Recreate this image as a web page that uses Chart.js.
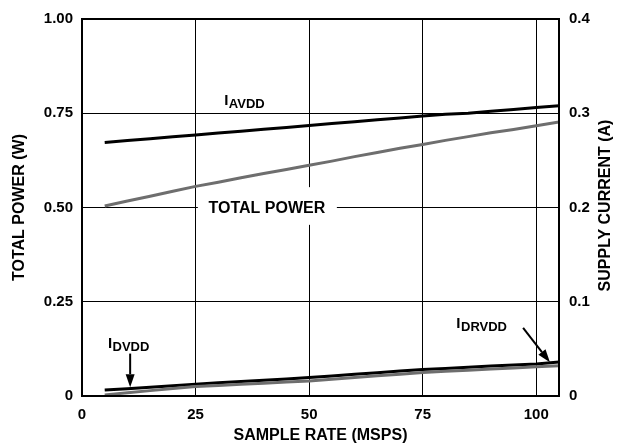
<!DOCTYPE html>
<html>
<head>
<meta charset="utf-8">
<script src="https://cdn.jsdelivr.net/npm/chart.js@4"></script>
<style>
  html, body { margin: 0; padding: 0; background: #fff; }
  #wrap { width: 618px; height: 444px; }
</style>
</head>
<body>
<div id="wrap"><canvas id="myChart" width="618" height="444"></canvas></div>
<script>
// sample rate (MSPS)
const sampleRate = [5, 10, 15, 20, 25, 30, 35, 40, 45, 50, 55, 60, 65, 70, 75, 80, 85, 90, 95, 100, 105];
// total power (W), left axis
const totalPower = [0.504, 0.517, 0.530, 0.543, 0.556, 0.567, 0.579, 0.590, 0.601, 0.612, 0.623,
  0.635, 0.646, 0.657, 0.667, 0.678, 0.688, 0.698, 0.707, 0.717, 0.727];
// supply currents (A), right axis
const iAvdd = [0.269, 0.271, 0.273, 0.275, 0.277, 0.279, 0.281, 0.283, 0.285, 0.287, 0.289,
  0.291, 0.293, 0.295, 0.297, 0.299, 0.300, 0.302, 0.304, 0.306, 0.308];
const iDvdd = [0.0063, 0.0078, 0.0094, 0.0110, 0.0126, 0.0140, 0.0154, 0.0168, 0.0181, 0.0195, 0.0212,
  0.0230, 0.0247, 0.0264, 0.0280, 0.0293, 0.0306, 0.0318, 0.0330, 0.0340, 0.0360];
const iDrvdd = [0.0012, 0.0035, 0.0057, 0.0080, 0.0100, 0.0112, 0.0124, 0.0136, 0.0148, 0.0160, 0.0178,
  0.0196, 0.0214, 0.0232, 0.0250, 0.0262, 0.0274, 0.0286, 0.0298, 0.0310, 0.0320];

const xTicks = [0, 25, 50, 75, 100];
const powerTicks = [0, 0.25, 0.5, 0.75, 1.0];
const currentTicks = [0, 0.1, 0.2, 0.3, 0.4];

const FONT = "'Liberation Sans', Arial, sans-serif";
const GRAY = "#6e6e6e";

const pts = (ys) => sampleRate.map((x, i) => ({ x: x, y: ys[i] }));

// labels, arrows, right-hand title and the white box behind "TOTAL POWER"
const notes = {
  id: "notes",
  beforeDatasetsDraw(chart) {
    const { ctx, scales } = chart;
    const x = scales.x, yl = scales.yPower;
    ctx.save();
    ctx.fillStyle = "#fff";
    const x0 = x.getPixelForValue(25.5), x1 = x.getPixelForValue(56.1);
    const y0 = yl.getPixelForValue(0.554), y1 = yl.getPixelForValue(0.454);
    ctx.fillRect(x0, y0, x1 - x0, y1 - y0);
    ctx.restore();
  },
  afterDatasetsDraw(chart) {
    const { ctx, scales } = chart;
    const x = scales.x, yl = scales.yPower, yr = scales.yCurrent;
    const a = chart.chartArea;
    ctx.save();
    ctx.fillStyle = "#000";
    ctx.strokeStyle = "#000";

    ctx.font = "bold 16px " + FONT;
    ctx.textAlign = "center";
    ctx.textBaseline = "middle";
    ctx.fillText("TOTAL POWER", x.getPixelForValue(40.7), yl.getPixelForValue(0.5) + 1);

    // right axis title, reading bottom to top like the left one
    ctx.save();
    ctx.translate(606, (a.top + a.bottom) / 2 - 2);
    ctx.rotate(-Math.PI / 2);
    ctx.fillText("SUPPLY CURRENT (A)", 0, 0);
    ctx.restore();

    const sub = (main, s, px, py) => {
      ctx.textAlign = "left";
      ctx.textBaseline = "alphabetic";
      ctx.font = "bold 15px " + FONT;
      ctx.fillText(main, px, py);
      const w = ctx.measureText(main).width;
      ctx.font = "bold 13px " + FONT;
      ctx.fillText(s, px + w + 0.5, py + 3);
    };
    sub("I", "AVDD", x.getPixelForValue(31.3), yl.getPixelForValue(0.772));
    sub("I", "DVDD", x.getPixelForValue(5.7), yr.getPixelForValue(0.051));
    sub("I", "DRVDD", x.getPixelForValue(82.4), yr.getPixelForValue(0.0724));

    const arrow = (ax, ay, bx, by) => {
      const ang = Math.atan2(by - ay, bx - ax);
      const len = 13, half = 4.5;
      const hx = bx - len * Math.cos(ang), hy = by - len * Math.sin(ang);
      ctx.lineWidth = 2;
      ctx.beginPath();
      ctx.moveTo(ax, ay);
      ctx.lineTo(hx, hy);
      ctx.stroke();
      ctx.beginPath();
      ctx.moveTo(bx, by);
      ctx.lineTo(hx + half * Math.sin(ang), hy - half * Math.cos(ang));
      ctx.lineTo(hx - half * Math.sin(ang), hy + half * Math.cos(ang));
      ctx.closePath();
      ctx.fill();
    };
    arrow(x.getPixelForValue(10.6), yr.getPixelForValue(0.045), x.getPixelForValue(10.6), yr.getPixelForValue(0.0094));
    arrow(x.getPixelForValue(97.1), yr.getPixelForValue(0.0724), x.getPixelForValue(103.0), yr.getPixelForValue(0.0357));

    // frame
    ctx.lineWidth = 2;
    ctx.strokeRect(a.left, a.top, a.right - a.left, a.bottom - a.top);
    ctx.restore();
  }
};

const ctx = document.getElementById("myChart").getContext("2d");
new Chart(ctx, {
  type: "line",
  data: {
    datasets: [
      { data: pts(totalPower), yAxisID: "yPower", borderColor: GRAY, borderWidth: 3 },
      { data: pts(iAvdd), yAxisID: "yCurrent", borderColor: "#000", borderWidth: 3 },
      { data: pts(iDrvdd), yAxisID: "yCurrent", borderColor: GRAY, borderWidth: 3 },
      { data: pts(iDvdd), yAxisID: "yCurrent", borderColor: "#000", borderWidth: 3 },
    ],
  },
  options: {
    responsive: false,
    animation: false,
    layout: { padding: { top: 15, left: 0, right: 0, bottom: 0 } },
    elements: { point: { radius: 0 }, line: { tension: 0, borderCapStyle: "butt" } },
    plugins: { legend: { display: false }, tooltip: { enabled: false } },
    scales: {
      x: {
        type: "linear",
        min: 0,
        max: 105,
        afterBuildTicks: (s) => { s.ticks = xTicks.map((v) => ({ value: v })); },
        afterFit: (s) => { s.height = 48; },
        grid: { color: "#000", lineWidth: 1, drawTicks: false },
        border: { display: true, color: "#000", width: 2 },
        ticks: { padding: 10, color: "#000", font: { family: FONT, size: 15, weight: "bold" }, maxRotation: 0 },
        title: {
          display: true, text: "SAMPLE RATE (MSPS)", color: "#000",
          font: { family: FONT, size: 16, weight: "bold", lineHeight: 1 }, padding: { top: 0, bottom: 0 },
        },
      },
      yPower: {
        position: "left",
        min: 0,
        max: 1,
        afterBuildTicks: (s) => { s.ticks = powerTicks.map((v) => ({ value: v })); },
        afterFit: (s) => { s.width = 82; },
        grid: { color: "#000", lineWidth: 1, drawTicks: false },
        border: { display: true, color: "#000", width: 2 },
        ticks: {
          padding: 9, color: "#000", font: { family: FONT, size: 15, weight: "bold" },
          callback: (v) => (v === 0 ? "0" : v.toFixed(2)),
        },
        title: {
          display: true, text: "TOTAL POWER (W)", color: "#000",
          font: { family: FONT, size: 16, weight: "bold", lineHeight: 1 }, padding: { top: 12, bottom: 0 },
        },
      },
      yCurrent: {
        position: "right",
        min: 0,
        max: 0.4,
        afterBuildTicks: (s) => { s.ticks = currentTicks.map((v) => ({ value: v })); },
        afterFit: (s) => { s.width = 59; },
        grid: { display: false, drawTicks: false },
        border: { display: true, color: "#000", width: 2 },
        ticks: {
          padding: 10, color: "#000", font: { family: FONT, size: 15, weight: "bold" },
          callback: (v) => (v === 0 ? "0" : v.toFixed(1)),
        },
      },
    },
  },
  plugins: [notes],
});
</script>
</body>
</html>
